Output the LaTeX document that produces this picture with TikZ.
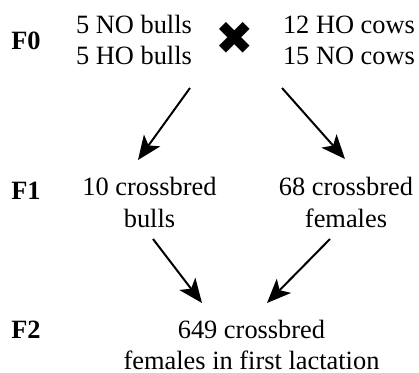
\documentclass[tikz,border=0pt]{standalone}
\usepackage{fontspec}
\setmainfont{Liberation Serif}
\newfontfamily\symfont{DejaVu Sans}
\usetikzlibrary{arrows.meta}
\begin{document}
\begin{tikzpicture}[x=1pt,y=1pt,
  txt/.style={font=\fontsize{26.4}{31}\selectfont, align=center, inner sep=0pt, anchor=base},
  gen/.style={font=\fontsize{26.4}{31}\selectfont\bfseries, inner sep=0pt, anchor=base},
  cross/.style={font=\fontsize{46}{46}\selectfont\symfont, inner sep=0pt},
  arr/.style={line width=2pt, -{Stealth[length=24pt,width=20pt,inset=6pt]}}]
\useasboundingbox (0,0) rectangle (419,372);
% generation labels
\node[gen] (g0) at (26,322) {F0};
\node[gen] (g1) at (26,172) {F1};
\node[gen] (g2) at (26,34) {F2};
% F0 (base = last line)
\node[txt] (f0l) at (134,307) {5 NO bulls\\5 HO bulls};
\node[cross] (x) at (235,334) {✖};
\node[txt] (f0r) at (349,307) {12 HO cows\\15 NO cows};
% F1
\node[txt, font=\fontsize{26.4}{32}\selectfont] (f1l) at (149.5,145) {10 crossbred\\bulls};
\node[txt, font=\fontsize{26.4}{32}\selectfont] (f1r) at (346,145) {68 crossbred\\females};
% F2
\node[txt, text depth=0pt] (f2) at (251.5,3) {649 crossbred\\females in first lactation};
% connectors
\draw[arr] ([shift={(56,-23)}]f0l.base) -- ([shift={(-11.5,67)}]f1l.base);
\draw[arr] ([shift={(-67,-23)}]f0r.base) -- ([shift={(-1,68)}]f1r.base);
\draw[arr] ([shift={(3.5,-12)}]f1l.base) -- ([shift={(-49.5,66)}]f2.base);
\draw[arr] ([shift={(-16,-12)}]f1r.base) -- ([shift={(15.5,66)}]f2.base);
\end{tikzpicture}
\end{document}
